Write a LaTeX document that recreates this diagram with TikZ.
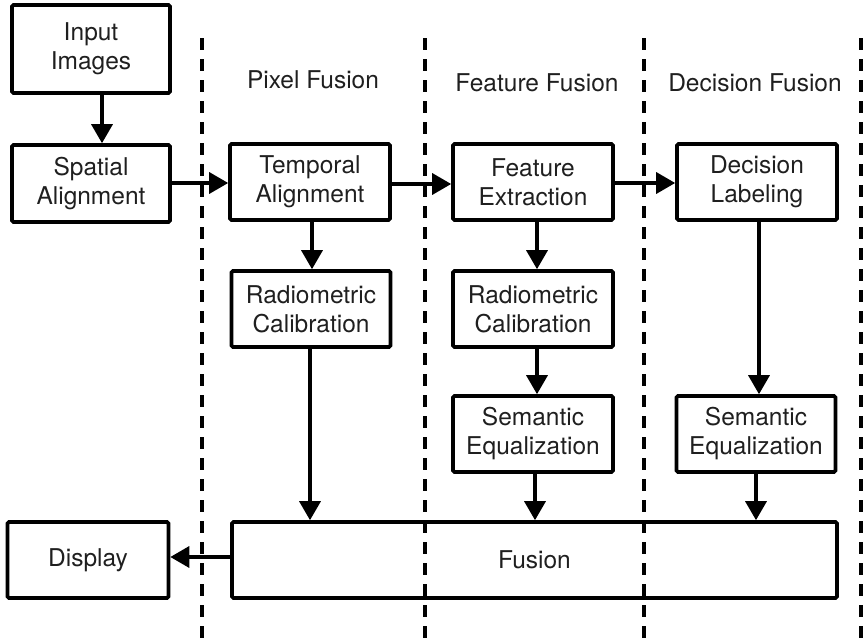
\documentclass[tikz,border=0pt]{standalone}
\usepackage{fontspec}
\setmainfont{TeX Gyre Heros}
\usetikzlibrary{arrows.meta}
\begin{document}
\begin{tikzpicture}[x=1pt,y=-1pt,
  box/.style={draw=black,line width=3.6pt,rounded corners=1.5pt,
    text=black!88,align=center,inner sep=0pt,
    font=\fontsize{24.5}{29}\selectfont},
  lbl/.style={text=black!88,font=\fontsize{24.5}{29}\selectfont},
  flow/.style={line width=3.4pt,-{Triangle[length=19pt,width=21pt]}},
  sep/.style={line width=3.4pt,dash pattern=on 12pt off 9pt}]
\useasboundingbox (0,0) rectangle (863,640);

% stage boxes
\node[box,minimum width=158pt,minimum height=88pt] (in) at (91,49) {Input\\Images};
\node[box,minimum width=158pt,minimum height=77pt] (sa) at (91,183.5) {Spatial\\Alignment};
\node[box,minimum width=160pt,minimum height=76pt] (ta) at (310,182) {Temporal\\Alignment};
\node[box,minimum width=160pt,minimum height=76pt] (fe) at (533,182) {Feature\\Extraction};
\node[box,minimum width=160pt,minimum height=76pt] (dl) at (757,182) {Decision\\Labeling};
\node[box,minimum width=159pt,minimum height=76pt] (rc1) at (311,309) {Radiometric\\Calibration};
\node[box,minimum width=160pt,minimum height=76pt] (rc2) at (533,309) {Radiometric\\Calibration};
\node[box,minimum width=160pt,minimum height=76pt] (se1) at (533,434) {Semantic\\Equalization};
\node[box,minimum width=159pt,minimum height=76pt] (se2) at (756,434) {Semantic\\Equalization};
\node[box,minimum width=161pt,minimum height=76pt] (disp) at (88,560) {Display};
\node[box,minimum width=605pt,minimum height=76pt] (fu) at (534.5,560) {Fusion};

% column headings
\node[lbl] (h1) at (313,80) {Pixel Fusion};
\node[lbl] (h2) at (537,83) {Feature Fusion};
\node[lbl] (h3) at (755,83) {Decision Fusion};

% connectors
\draw[flow] (in.south -| 102,0) -- (sa.north -| 102,0);
\draw[flow] (sa.east |- 0,183) -- (ta.west |- 0,183);
\draw[flow] (ta.east |- 0,184) -- (fe.west |- 0,184);
\draw[flow] (fe.east |- 0,183) -- (dl.west |- 0,183);
\draw[flow] (ta.south -| 312,0) -- (rc1.north -| 312,0);
\draw[flow] (rc1.south -| 310,0) -- (fu.north -| 310,0);
\draw[flow] (fe.south -| 537,0) -- (rc2.north -| 537,0);
\draw[flow] (rc2.south -| 537,0) -- (se1.north -| 537,0);
\draw[flow] (se1.south -| 535,0) -- (fu.north -| 535,0);
\draw[flow] (dl.south -| 759,0) -- (se2.north -| 759,0);
\draw[flow] (se2.south -| 756,0) -- (fu.north -| 756,0);
\draw[flow] (fu.west |- 0,557) -- (disp.east |- 0,557);

% level separators
\coordinate (s1a) at (202,38); \coordinate (s1b) at (202,640);
\coordinate (s2a) at (425,38); \coordinate (s2b) at (425,640);
\coordinate (s3a) at (644,38); \coordinate (s3b) at (644,640);
\coordinate (s4a) at (861,38); \coordinate (s4b) at (861,640);
\draw[sep] (s1a) -- (s1b);
\draw[sep] (s2a) -- (s2b);
\draw[sep] (s3a) -- (s3b);
\draw[sep] (s4a) -- (s4b);
\end{tikzpicture}
\end{document}
